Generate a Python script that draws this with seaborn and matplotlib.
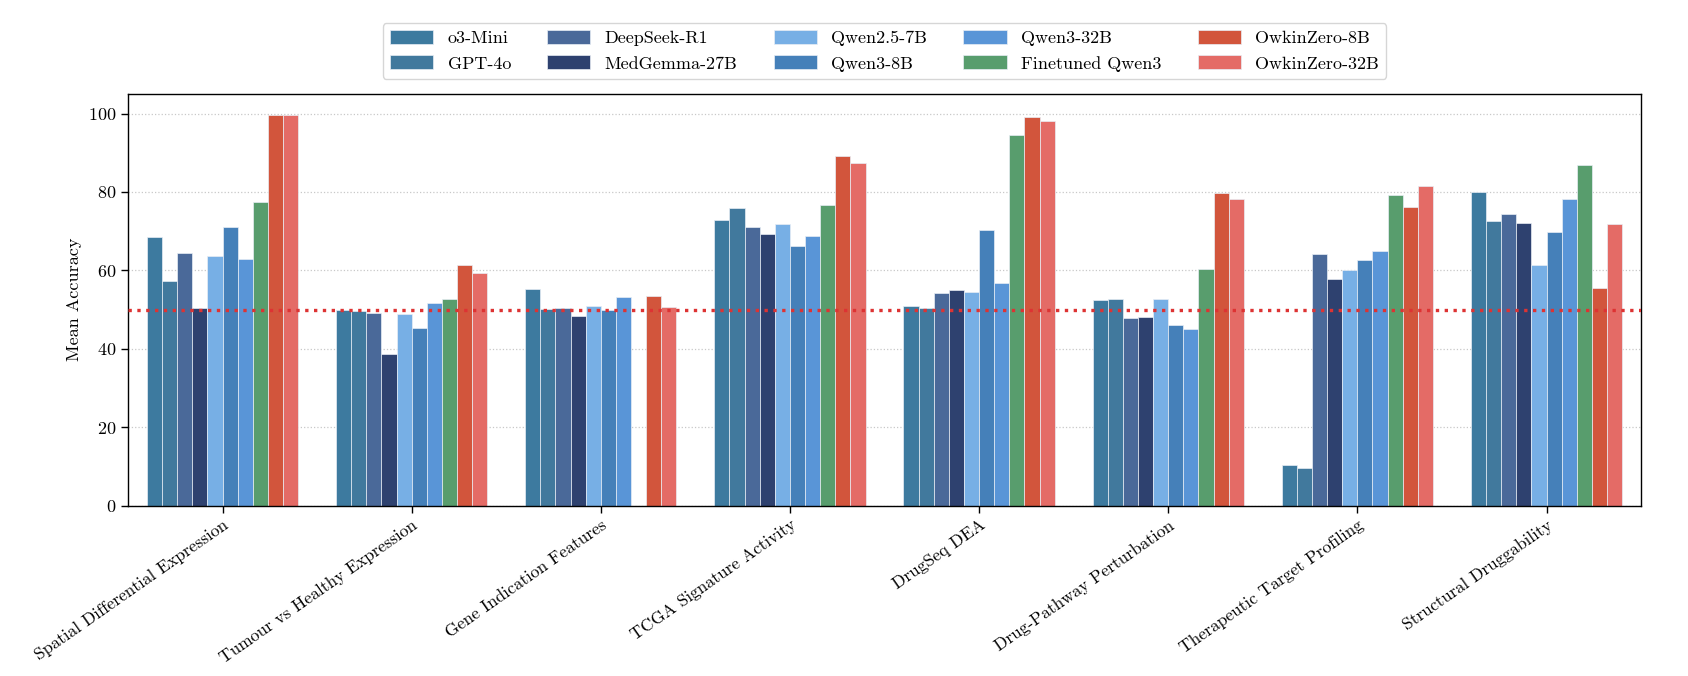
import numpy as np
import pandas as pd
import seaborn as sns
import matplotlib.pyplot as plt

# tasks on the x axis
categories = [
    "Spatial Differential Expression",
    "Tumour vs Healthy Expression",
    "Gene Indication Features",
    "TCGA Signature Activity",
    "DrugSeq DEA",
    "Drug-Pathway Perturbation",
    "Therapeutic Target Profiling",
    "Structural Druggability",
]

models = ["o3-Mini", "GPT-4o", "DeepSeek-R1", "MedGemma-27B", "Qwen2.5-7B",
          "Qwen3-8B", "Qwen3-32B", "Finetuned Qwen3", "OwkinZero-8B", "OwkinZero-32B"]

# mean accuracy per model, one value per task
o3_mini = [68.6, 49.9, 55.2, 72.9, 50.9, 52.4, 10.4, 80.0]
gpt_4o = [57.4, 49.6, 50.1, 75.8, 50.4, 52.8, 9.5, 72.6]
deepseek_r1 = [64.4, 49.1, 50.3, 71.0, 54.3, 47.9, 64.2, 74.4]
medgemma_27b = [50.4, 38.8, 48.3, 69.3, 55.0, 48.1, 57.9, 72.1]
qwen25_7b = [63.7, 49.0, 51.0, 71.9, 54.6, 52.6, 60.1, 61.4]
qwen3_8b = [71.0, 45.4, 50.0, 66.3, 70.4, 46.0, 62.6, 69.9]
qwen3_32b = [63.0, 51.7, 53.1, 68.7, 56.9, 45.1, 64.9, 78.3]
finetuned_qwen3 = [77.5, 52.6, np.nan, 76.6, 94.5, 60.3, 79.2, 86.9]
owkinzero_8b = [99.7, 61.5, 53.4, 89.3, 99.2, 79.7, 76.1, 55.4]
owkinzero_32b = [99.6, 59.4, 50.7, 87.4, 98.1, 78.3, 81.5, 71.8]

chance_level = 50

colors = ["#3d7a9f", "#41799d", "#4a6999", "#2e416f", "#77afe5",
          "#4580b9", "#5995d7", "#589d6d", "#d2553c", "#e46b66"]

series = [o3_mini, gpt_4o, deepseek_r1, medgemma_27b, qwen25_7b,
          qwen3_8b, qwen3_32b, finetuned_qwen3, owkinzero_8b, owkinzero_32b]

rows = []
for m, vals in zip(models, series):
    for c, v in zip(categories, vals):
        rows.append({"Task": c, "Model": m, "Accuracy": v})
df = pd.DataFrame(rows).dropna()

plt.rcParams["font.family"] = ["cmr10", "DejaVu Serif"]
plt.rcParams["mathtext.fontset"] = "cm"
plt.rcParams["axes.formatter.use_mathtext"] = True
plt.rcParams["font.size"] = 13

fig = plt.figure(figsize=(16.88, 6.76), dpi=100)
ax = fig.add_axes([0.0758, 0.252, 0.8964, 0.609])

sns.barplot(data=df, x="Task", y="Accuracy", hue="Model", order=categories,
            hue_order=models, palette=colors, errorbar=None, width=0.8,
            edgecolor="#e8eef5", linewidth=0.5, saturation=1, ax=ax)

ax.axhline(chance_level, color="#dd3333", linestyle=":", linewidth=2.4, zorder=5)

ax.set_ylim(0, 105)
ax.set_yticks([0, 20, 40, 60, 80, 100])
ax.grid(axis="y", linestyle=":", color="#c8c8c8", linewidth=0.9)
ax.set_axisbelow(True)
ax.set_xlabel("")
ax.set_ylabel("Mean Accuracy", fontsize=13)
ax.tick_params(axis="both", labelsize=13, length=5, width=1)
ax.tick_params(axis="x", labelsize=12.5)
plt.setp(ax.get_xticklabels(), rotation=35, ha="right", rotation_mode="anchor")
for s in ax.spines.values():
    s.set_linewidth(1.0)
    s.set_color("black")

handles, labels = ax.get_legend_handles_labels()
ax.legend(handles, labels, ncol=5, loc="lower center", bbox_to_anchor=(0.5, 1.015),
          fontsize=13, handlelength=2.4, handleheight=0.8, columnspacing=2.0,
          frameon=True, edgecolor="#cccccc")

fig.savefig("out.png", dpi=100)
